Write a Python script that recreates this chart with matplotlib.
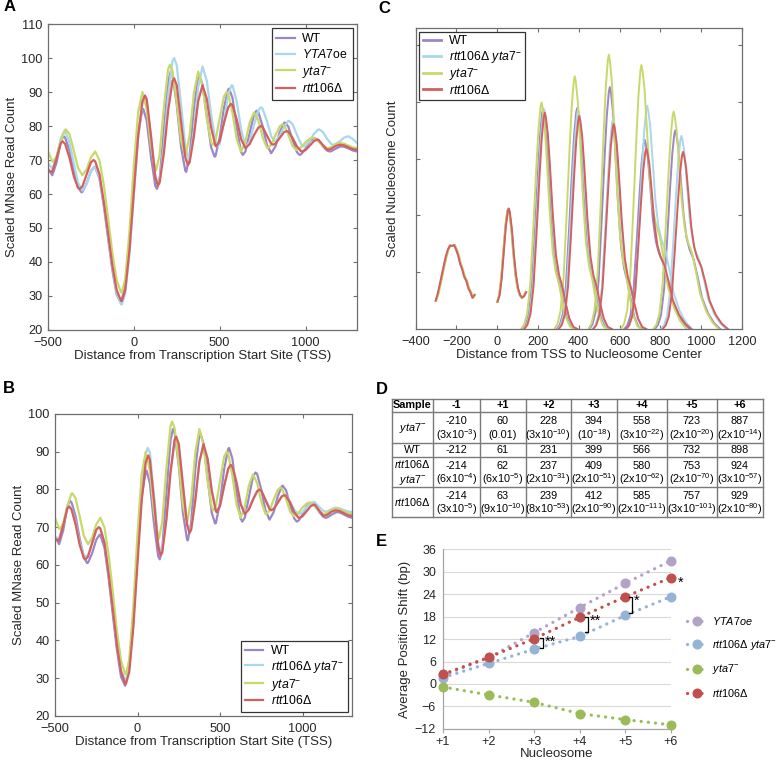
import numpy as np
import matplotlib
matplotlib.use("Agg")
import matplotlib.pyplot as plt
from matplotlib.lines import Line2D

plt.rcParams['font.family'] = ['Liberation Sans', 'DejaVu Sans']
plt.rcParams['mathtext.fontset'] = 'custom'
plt.rcParams['mathtext.rm'] = 'Liberation Sans'
plt.rcParams['mathtext.it'] = 'Liberation Sans:italic'
plt.rcParams['mathtext.bf'] = 'Liberation Sans:bold'

## MNase profiles (A, B): values read every 25 bp from -500 to 1300

pos = np.arange(-500, 1301, 25)

wt = [67.5, 65.5, 69.2, 75.6, 76.6, 72.9, 66.9, 62.0, 60.6, 63.1, 66.7, 68.0, 64.5, 56.6, 47.0, 37.6, 30.4, 28.0,
      33.0, 46.2, 63.3, 78.0, 84.8, 81.6, 70.9, 62.4, 64.3, 78.8, 93.1, 95.1, 86.3, 73.9, 66.8, 71.2, 85.2, 94.7,
      92.2, 83.0, 73.8, 71.1, 76.6, 85.4, 90.8, 88.2, 79.3, 72.3, 72.5, 78.0, 83.4, 84.1, 80.0, 74.5, 72.0, 74.0,
      78.2, 80.9, 79.8, 75.8, 72.3, 71.7, 73.3, 75.5, 76.5, 75.8, 74.1, 72.8, 72.6, 73.3, 73.9, 73.9, 73.4, 72.8, 72.5]
oe = [69.0, 67.5, 70.7, 76.4, 78.5, 75.2, 69.1, 63.3, 61.0, 63.0, 66.7, 68.0, 64.8, 57.1, 47.75, 38.4, 30.9, 27.6,
      30.7, 42.75, 59.8, 76.3, 86.7, 87.4, 77.0, 65.4, 64.0, 74.1, 88.9, 99.1, 97.8, 86.3, 73.9, 70.1, 78.5, 91.4,
      97.5, 93.3, 83.6, 75.6, 74.7, 81.2, 89.4, 91.9, 87.0, 79.0, 74.1, 75.5, 80.3, 84.6, 85.1, 81.5, 77.0, 75.5,
      77.2, 79.8, 81.5, 80.5, 77.4, 74.6, 74.15, 75.65, 77.75, 79.0, 78.3, 76.3, 74.7, 74.7, 75.5, 76.6, 77.0, 76.2, 75.0]
yta = [72.5, 69.6, 71.1, 75.7, 78.9, 77.6, 72.8, 67.7, 65.5, 67.25, 70.75, 72.5, 69.9, 62.7, 53.0, 42.6, 34.7, 31.1,
       35.0, 49.3, 68.2, 84.0, 90.0, 85.0, 74.1, 67.2, 71.5, 85.6, 96.8, 96.2, 86.9, 75.9, 71.0, 77.25, 89.75, 96.0,
       91.7, 82.2, 75.2, 75.7, 82.25, 88.7, 89.4, 83.7, 76.0, 72.5, 75.4, 81.1, 84.0, 81.7, 76.8, 73.6, 74.4, 77.3,
       79.9, 80.2, 77.5, 74.1, 73.0, 73.8, 75.2, 76.3, 76.4, 75.5, 74.25, 73.5, 73.8, 74.6, 75.0, 74.8, 74.25, 73.7, 73.5]
rtt = [67.0, 66.6, 70.5, 75.0, 74.7, 70.7, 65.3, 61.8, 62.2, 65.75, 69.3, 69.6, 65.8, 57.6, 48.4, 38.9, 31.8, 28.6,
       31.7, 43.6, 60.5, 76.9, 87.2, 87.9, 77.1, 65.0, 63.3, 72.0, 84.5, 93.2, 92.0, 81.25, 70.7, 69.3, 77.0, 87.3,
       92.0, 88.0, 79.6, 74.2, 75.6, 80.9, 85.5, 86.1, 81.8, 76.1, 73.5, 74.7, 77.3, 79.5, 79.7, 77.25, 74.8, 74.8,
       76.5, 78.2, 78.3, 76.5, 74.0, 72.5, 72.9, 74.25, 75.6, 75.95, 74.5, 73.1, 73.3, 74.1, 74.5, 74.3, 73.75, 73.2, 73.0]
dbl = [67.5, 67.0, 70.8, 75.2, 75.0, 71.2, 66.0, 62.5, 62.6, 66.0, 69.4, 69.8, 66.0, 58.0, 48.8, 39.3, 32.2, 29.5,
       32.5, 45.0, 62.5, 79.0, 89.6, 89.8, 78.5, 66.0, 63.8, 72.3, 84.6, 93.0, 92.0, 81.5, 71.0, 69.6, 77.2, 87.3,
       91.8, 88.2, 79.9, 74.6, 75.8, 81.0, 85.6, 86.2, 82.0, 76.5, 74.0, 75.0, 77.5, 79.6, 79.8, 77.5, 75.2, 75.0,
       76.6, 78.2, 78.4, 76.8, 74.6, 73.5, 74.0, 75.3, 76.4, 76.6, 75.4, 74.4, 74.2, 74.8, 75.2, 75.0, 74.6, 74.2, 74.0]

# peaks and troughs read for each profile
wt_ext_x = [-475, -410, -305, -230, -75, 55, 135, 215, 305, 380, 470, 555, 635, 715, 800, 880, 965, 1050, 1140, 1210]
wt_ext_y = [65.5, 77, 60.5, 68, 28, 85, 61.5, 96, 66.5, 95, 71, 91, 71.5, 84.5, 72, 81, 71.5, 76.5, 72.5, 74]
oe_ext_x = [-475, -405, -300, -230, -70, 65, 140, 235, 320, 400, 490, 570, 655, 740, 820, 905, 990, 1080, 1160, 1250]
oe_ext_y = [67.5, 78.5, 61, 68, 27.5, 88.5, 63, 100, 70, 97.5, 74, 92, 74, 85.5, 75.5, 81.5, 74, 79, 74.5, 77]
yta_ext_x = [-470, -395, -300, -225, -70, 50, 130, 210, 300, 375, 460, 540, 625, 700, 780, 865, 945, 1040, 1130, 1200]
yta_ext_y = [69.5, 79, 65.5, 72.5, 31, 90, 67, 98, 71, 96, 74.5, 90, 72.5, 84, 73.5, 80.5, 73, 76.5, 73.5, 75]
rtt_ext_x = [-480, -415, -315, -235, -70, 65, 140, 235, 315, 400, 480, 565, 650, 740, 810, 890, 980, 1070, 1130, 1200]
rtt_ext_y = [66.5, 75.5, 61.5, 70, 28.5, 89, 62.5, 94, 68.5, 92, 74, 86.5, 73.5, 80, 74.5, 78.5, 72.5, 76, 73, 74.5]
dbl_ext_x = [-480, -415, -315, -235, -72, 62, 140, 233, 315, 400, 480, 565, 650, 740, 815, 890, 980, 1070, 1140, 1200]
dbl_ext_y = [67, 75.6, 62.3, 70, 29.3, 91, 63.5, 93.5, 69.3, 91.8, 74.4, 86.5, 73.8, 80, 74.8, 78.5, 73.4, 76.7, 74.1, 75.2]

## Nucleosome distributions (C)

c_names = ["WT", "dbl", "yta", "rtt"]
m1_x = np.arange(-300, -109, 10)
m1_y = [0.50, 0.62, 0.78, 0.95, 1.12, 1.28, 1.40, 1.47, 1.46, 1.48, 1.40, 1.30, 1.15, 1.05, 0.92, 0.85, 0.72,
        0.65, 0.55, 0.60]
p1_x = [0, 10, 20, 30, 40, 50, 55, 60, 70, 80, 90, 100, 110, 120, 130, 140]
p1_y = [0.48, 0.60, 0.90, 1.35, 1.80, 2.08, 2.12, 2.05, 1.75, 1.30, 0.95, 0.72, 0.60, 0.55, 0.58, 0.65]
shift_m1 = {"WT": 0, "dbl": -2, "yta": 2, "rtt": -2}
shift_p1 = {"WT": 0, "dbl": 1, "yta": -1, "rtt": 2}
peak_x = {"WT": [225, 392, 552, 723, 873],
          "dbl": [230, 397, 568, 735, 903],
          "yta": [217, 380, 547, 707, 865],
          "rtt": [233, 402, 571, 731, 911]}
peak_h = {"WT": [3.88, 3.89, 4.26, 3.33, 3.50],
          "dbl": [3.87, 3.87, 3.71, 3.93, 3.40],
          "yta": [3.99, 4.45, 4.83, 4.65, 3.83],
          "rtt": [3.81, 3.75, 3.61, 3.18, 3.12]}
short_off = np.array([-100, -85, -70, -55, -40, -25, -15, -5, 0, 5, 15, 25, 40, 55, 70, 85, 100, 120, 140, 160])
short_val = np.array([0, 0.02, 0.07, 0.2, 0.45, 0.72, 0.88, 0.98, 1.0, 0.98, 0.9, 0.76, 0.52, 0.34, 0.25, 0.2,
                      0.13, 0.05, 0.01, 0])
long_off = np.array([-100, -85, -70, -55, -40, -25, -15, -5, 0, 5, 15, 25, 40, 55, 70, 90, 110, 130, 160, 190, 220])
long_val = np.array([0, 0.02, 0.07, 0.2, 0.45, 0.72, 0.88, 0.98, 1.0, 0.98, 0.91, 0.78, 0.58, 0.46, 0.4, 0.35, 0.26,
                     0.16, 0.08, 0.03, 0])

## Table (D)

col_heads = ["Sample", "-1", "+1", "+2", "+3", "+4", "+5", "+6"]
row_labels = [r"$\mathit{yta7}^{-}$", "WT", r"$\mathit{rtt106Δ}$" + "\n" + r"$\mathit{yta7}^{-}$", r"$\mathit{rtt106Δ}$"]
tab_pos = [[-210, 60, 228, 394, 558, 723, 887],
           [-212, 61, 231, 399, 566, 732, 898],
           [-214, 62, 237, 409, 580, 753, 924],
           [-214, 63, 239, 412, 585, 757, 929]]
tab_p = [["3x10^-3", "0.01", "3x10^-10", "10^-18", "3x10^-22", "2x10^-20", "2x10^-14"],
         None,
         ["6x10^-4", "6x10^-5", "2x10^-31", "2x10^-51", "2x10^-62", "2x10^-70", "3x10^-57"],
         ["3x10^-5", "9x10^-10", "8x10^-53", "2x10^-90", "2x10^-111", "3x10^-101", "2x10^-80"]]

## Average shift (E)

nuc = ["+1", "+2", "+3", "+4", "+5", "+6"]
e_oe = [2.3, 7.0, 13.7, 20.4, 26.9, 32.9]
e_dbl = [1.7, 5.5, 9.3, 12.7, 18.3, 23.3]
e_yta = [-0.8, -2.9, -4.9, -7.9, -9.5, -10.9]
e_rtt = [2.6, 7.1, 12.1, 17.8, 23.3, 28.4]
br_x = [2.2, 3.18, 4.15, 5.12]
br_top = [12.2, 17.8, 23.1, 27.9]
br_bot = [9.5, 14.0, 19.0, 24.2]
br_lab = ["**", "**", "*", "*"]

## Colours

c_wt = "#9d86c6"
c_blue = "#a9d7ec"
c_yta = "#c8d96c"
c_rtt = "#d3605f"
cols = {"WT": c_wt, "dbl": c_blue, "yta": c_yta, "rtt": c_rtt}
lab_oe = r"$\mathit{YTA7}$oe"
lab_dbl = r"$\mathit{rtt106Δ\ yta7}^{-}$"
lab_yta = r"$\mathit{yta7}^{-}$"
lab_rtt = r"$\mathit{rtt106Δ}$"
txt = "#262626"


def merged(grid_y, ext_x, ext_y):
    keep = ~np.isin(pos, ext_x)
    x = np.concatenate([pos[keep], ext_x])
    y = np.concatenate([np.array(grid_y)[keep], ext_y])
    order = np.argsort(x)
    return x[order], y[order]


def style_box(ax):
    for s in ax.spines.values():
        s.set_color("#6e6e6e")
        s.set_linewidth(0.9)
    ax.tick_params(direction="in", top=True, right=True, length=3, color="#6e6e6e",
                   labelsize=9.2, labelcolor=txt)
    ax.tick_params(axis="x", pad=5)
    ax.tick_params(axis="y", pad=4)


fig = plt.figure(figsize=(7.79, 7.6), dpi=100)

## Panel A

axA = fig.add_axes([0.0616, 0.5658, 0.3967, 0.4026])
axA.plot(*merged(wt, wt_ext_x, wt_ext_y), color=c_wt, lw=1.6, label="WT")
axA.plot(*merged(oe, oe_ext_x, oe_ext_y), color=c_blue, lw=1.6, label=lab_oe)
axA.plot(*merged(yta, yta_ext_x, yta_ext_y), color=c_yta, lw=1.6, label=lab_yta)
axA.plot(*merged(rtt, rtt_ext_x, rtt_ext_y), color=c_rtt, lw=1.6, label=lab_rtt)
axA.set_xlim(-500, 1300)
axA.set_ylim(20, 110)
axA.set_xticks([-500, 0, 500, 1000])
axA.set_yticks(range(20, 111, 10))
axA.set_xlabel("Distance from Transcription Start Site (TSS)", fontsize=9.5, color=txt, labelpad=1)
axA.set_ylabel("Scaled MNase Read Count", fontsize=9.5, color=txt, labelpad=2)
style_box(axA)
leg = axA.legend(loc="upper right", fontsize=8.8, frameon=True, fancybox=False, edgecolor="black",
                 handlelength=1.5, borderaxespad=0.35, labelspacing=0.22, handletextpad=0.6)
leg.get_frame().set_linewidth(0.9)

## Panel B

axB = fig.add_axes([0.0706, 0.0579, 0.3813, 0.3974])
axB.plot(*merged(wt, wt_ext_x, wt_ext_y), color=c_wt, lw=1.6, label="WT")
axB.plot(*merged(dbl, dbl_ext_x, dbl_ext_y), color=c_blue, lw=1.6, label=lab_dbl)
axB.plot(*merged(yta, yta_ext_x, yta_ext_y), color=c_yta, lw=1.6, label=lab_yta)
axB.plot(*merged(rtt, rtt_ext_x, rtt_ext_y), color=c_rtt, lw=1.6, label=lab_rtt)
axB.set_xlim(-500, 1300)
axB.set_ylim(20, 100)
axB.set_xticks([-500, 0, 500, 1000])
axB.set_yticks(range(20, 101, 10))
axB.set_xlabel("Distance from Transcription Start Site (TSS)", fontsize=9.5, color=txt, labelpad=1)
axB.set_ylabel("Scaled MNase Read Count", fontsize=9.5, color=txt, labelpad=2)
style_box(axB)
leg = axB.legend(loc="lower right", fontsize=8.8, frameon=True, fancybox=False, edgecolor="black",
                 handlelength=1.5, borderaxespad=0.35, labelspacing=0.15, handletextpad=0.6, borderpad=0.35)
leg.get_frame().set_linewidth(0.9)

## Panel C

axC = fig.add_axes([0.5336, 0.5671, 0.4189, 0.396])
c_labels = {"WT": "WT", "dbl": lab_dbl, "yta": lab_yta, "rtt": lab_rtt}
for name in c_names:
    col = cols[name]
    axC.plot(m1_x + shift_m1[name], m1_y, color=col, lw=1.4)
    axC.plot(np.array(p1_x) + shift_p1[name], p1_y, color=col, lw=1.4)
    for i, (px, ph) in enumerate(zip(peak_x[name], peak_h[name])):
        off, val = (short_off, short_val) if i < 3 else (long_off, long_val)
        axC.plot(px + off, ph * val, color=col, lw=1.4)
axC.set_xlim(-400, 1200)
axC.set_ylim(0, 5.3)
axC.set_xticks(range(-400, 1201, 200))
axC.set_yticks([1, 2, 3, 4, 5])
axC.set_yticklabels([])
axC.set_xlabel("Distance from TSS to Nucleosome Center", fontsize=9.5, color=txt, labelpad=1)
axC.set_ylabel("Scaled Nucleosome Count", fontsize=9.5, color=txt, labelpad=8)
style_box(axC)
handles = [Line2D([], [], color=cols[n], lw=2) for n in c_names]
leg = axC.legend(handles, [c_labels[n] for n in c_names], loc="upper left", fontsize=8.8, frameon=True,
                 fancybox=False, edgecolor="black", handlelength=1.5, borderaxespad=0.3, labelspacing=0.12,
                 handletextpad=0.6, borderpad=0.3)
leg.get_frame().set_linewidth(0.9)

## Panel D (table)

axD = fig.add_axes([0.5028, 0.3197, 0.4763, 0.1553])
axD.set_xlim(0, 1)
axD.set_ylim(1, 0)
axD.axis("off")
col_edges = [0, 0.112, 0.238, 0.361, 0.483, 0.606, 0.741, 0.876, 1.0]
row_edges = [0, 0.110, 0.373, 0.492, 0.746, 1.0]
for xe in col_edges:
    axD.plot([xe, xe], [0, 1], color="#7a7a7a", lw=1.0, clip_on=False)
for ye in row_edges:
    axD.plot([0, 1], [ye, ye], color="#7a7a7a", lw=1.0, clip_on=False)
tfs = 7.8
for j, h in enumerate(col_heads):
    xc = (col_edges[j] + col_edges[j + 1]) / 2
    axD.text(xc, row_edges[1] / 2, h, ha="center", va="center", fontsize=tfs, fontweight="bold")
for i in range(4):
    y0, y1 = row_edges[i + 1], row_edges[i + 2]
    axD.text((col_edges[0] + col_edges[1]) / 2, (y0 + y1) / 2, row_labels[i], ha="center", va="center",
             fontsize=tfs, linespacing=1.3)
    for j in range(7):
        xc = (col_edges[j + 1] + col_edges[j + 2]) / 2
        if tab_p[i] is None:
            axD.text(xc, (y0 + y1) / 2, str(tab_pos[i][j]), ha="center", va="center", fontsize=tfs)
        else:
            s = tab_p[i][j]
            if "^" in s:
                b, e = s.split("^")
                ps = "(" + b + "$^{" + e + "}$)"
            else:
                ps = "(" + s + ")"
            axD.text(xc, y0 + (y1 - y0) * 0.30, str(tab_pos[i][j]), ha="center", va="center", fontsize=tfs)
            axD.text(xc, y0 + (y1 - y0) * 0.74, ps, ha="center", va="center", fontsize=tfs)

## Panel E

axE = fig.add_axes([0.5687, 0.0408, 0.2927, 0.2368])
xs = np.arange(len(nuc))
e_cols = {"oe": "#b3a2c7", "dbl": "#95b3d7", "yta": "#9bbb59", "rtt": "#c0504d"}
for vals, key, lab in [(e_oe, "oe", r"$\mathit{YTA7oe}$"), (e_dbl, "dbl", lab_dbl),
                       (e_yta, "yta", lab_yta), (e_rtt, "rtt", lab_rtt)]:
    axE.plot(xs, vals, linestyle=(0, (0.05, 2.2)), lw=2.3, color=e_cols[key], marker="o", markersize=6.2,
             dash_capstyle="round", clip_on=False, label=lab, zorder=3)
for bx, bt, bb, bl in zip(br_x, br_top, br_bot, br_lab):
    axE.plot([bx - 0.07, bx, bx, bx - 0.07], [bt, bt, bb, bb], color="black", lw=0.9, zorder=4)
    axE.text(bx + 0.03, bt + 1.0, bl, ha="left", va="top", fontsize=10.5, zorder=4)
axE.set_xlim(0, 5)
axE.set_ylim(-12, 36)
axE.set_yticks(range(-12, 37, 6))
axE.set_xticks(xs)
axE.set_xticklabels(nuc)
axE.yaxis.grid(True, color="#d9d9d9", lw=0.8)
axE.set_axisbelow(True)
for s in ["top", "right"]:
    axE.spines[s].set_visible(False)
for s in ["left", "bottom"]:
    axE.spines[s].set_color("#a6a6a6")
    axE.spines[s].set_linewidth(0.9)
axE.tick_params(axis="y", length=0, labelsize=9, labelcolor=txt, pad=5)
axE.tick_params(axis="x", length=3, color="#a6a6a6", labelsize=9, labelcolor=txt, pad=2)
axE.set_xlabel("Nucleosome", fontsize=9.5, color=txt, labelpad=0)
axE.set_ylabel("Average Position Shift (bp)", fontsize=9.5, color=txt, labelpad=3)
axE.legend(loc="center left", bbox_to_anchor=(1.07, 0.40), frameon=False, fontsize=7.8, handlelength=1.8,
           labelspacing=1.0, handletextpad=0.5, borderaxespad=0, borderpad=0)

## Panel letters

for lab, x, y in [("A", 0.004, 0.991), ("B", 0.004, 0.489), ("C", 0.486, 0.989), ("D", 0.483, 0.487),
                  ("E", 0.483, 0.288)]:
    fig.text(x, y, lab, fontsize=12, fontweight="bold", va="center", ha="left")

fig.savefig("out.png", dpi=100)
